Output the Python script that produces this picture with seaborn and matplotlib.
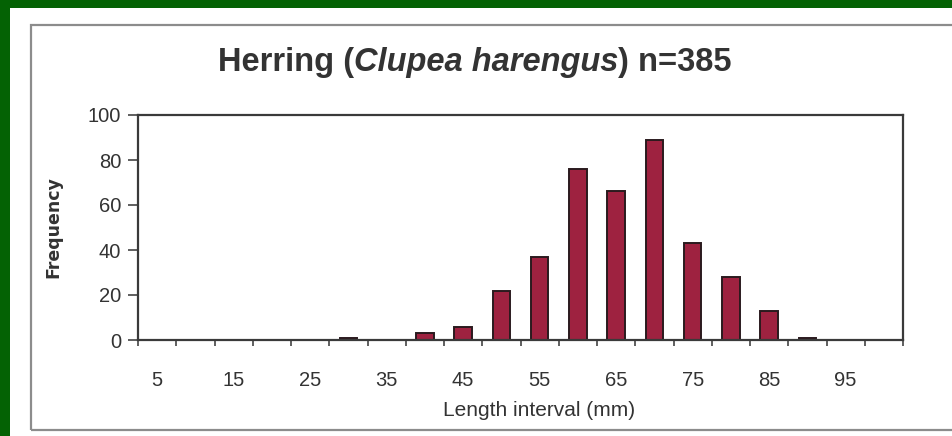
import numpy as np
import pandas as pd
import matplotlib
matplotlib.use("Agg")
import matplotlib.pyplot as plt
from matplotlib.patches import Rectangle
from matplotlib.ticker import FixedLocator
import seaborn as sns

# ---- data ----
intervals = [5, 10, 15, 20, 25, 30, 35, 40, 45, 50, 55, 60, 65, 70, 75, 80, 85, 90, 95, 100]
frequency = [0, 0, 0, 0, 0, 1, 0, 3, 6, 22, 37, 76, 66, 89, 43, 28, 13, 1, 0, 0]
tick_labels = ["5", "15", "25", "35", "45", "55", "65", "75", "85", "95"]
title_parts = ["Herring (", "Clupea harengus", ") n=385"]
x_title = "Length interval (mm)"
y_title = "Frequency"

sns.set_style("ticks")
plt.rcParams["font.family"] = ["Liberation Sans", "DejaVu Sans"]

W, H = 952, 436
fig = plt.figure(figsize=(W / 100, H / 100), dpi=100)
fig.patch.set_facecolor("#046204")

# white panel and inner grey frame
fig.patches.append(Rectangle((10 / W, 0), 1, (H - 8) / H, transform=fig.transFigure,
                             facecolor="white", edgecolor="none", zorder=-10))
fig.patches.append(Rectangle((31 / W, 6 / H), 1.0, (430 - 25) / H, transform=fig.transFigure,
                             facecolor="none", edgecolor="#8c8c8c", linewidth=1.6, zorder=-9))

left, right, top, bottom = 138, 903, 115, 340
ax = fig.add_axes([left / W, (H - bottom) / H, (right - left) / W, (bottom - top) / H])
ax.set_facecolor("white")

df = pd.DataFrame({"interval": [str(v) for v in intervals], "freq": frequency})
sns.barplot(data=df, x="interval", y="freq", order=[str(v) for v in intervals],
            color="#9e2240", saturation=1, edgecolor="#2a1a1e", linewidth=1.4,
            width=0.46, ax=ax)

ax.set_xlim(-0.5, len(intervals) - 0.5)
ax.set_ylim(0, 100)
ax.set_yticks(np.arange(0, 101, 20))
ax.set_xticks(np.arange(0, len(intervals), 2), labels=tick_labels)
ax.xaxis.set_minor_locator(FixedLocator(np.arange(-0.5, len(intervals), 1.0)))
ax.tick_params(axis="x", which="major", length=0, pad=22, labelsize=14.5, colors="#333333")
ax.tick_params(axis="x", which="minor", length=4, width=1.2, color="#444444", direction="out")
ax.tick_params(axis="y", which="major", length=7, width=1.2, pad=5, labelsize=14.5,
               color="#444444", labelcolor="#333333")

for s in ["left", "bottom", "top", "right"]:
    ax.spines[s].set_visible(True)
    ax.spines[s].set_color("#3a3a3a")
    ax.spines[s].set_linewidth(1.6)

ax.set_xlabel(x_title, fontsize=15, color="#333333")
ax.xaxis.set_label_coords((539 - left) / (right - left), (bottom - 410) / (bottom - top))
ax.xaxis.label.set_va("center")
ax.set_ylabel(y_title, fontsize=12.5, fontweight="bold", color="#333333",
              family=["DejaVu Sans"])
ax.yaxis.set_label_coords((53 - left) / (right - left), 0.5)
ax.yaxis.label.set_va("center")

# title in three styled pieces sharing one baseline
styles = ["normal", "italic", "normal"]
texts = []
for part, st in zip(title_parts, styles):
    t = fig.text(0, (H - 71) / H, part, fontsize=23.5, fontweight="bold", style=st,
                 color="#333333", ha="left", va="baseline")
    texts.append(t)
fig.canvas.draw()
r = fig.canvas.get_renderer()
widths = [t.get_window_extent(r).width for t in texts]
x0 = 475 - sum(widths) / 2
for t, w in zip(texts, widths):
    t.set_x(x0 / W)
    x0 += w

fig.savefig("out.png", dpi=100, facecolor=fig.get_facecolor())
